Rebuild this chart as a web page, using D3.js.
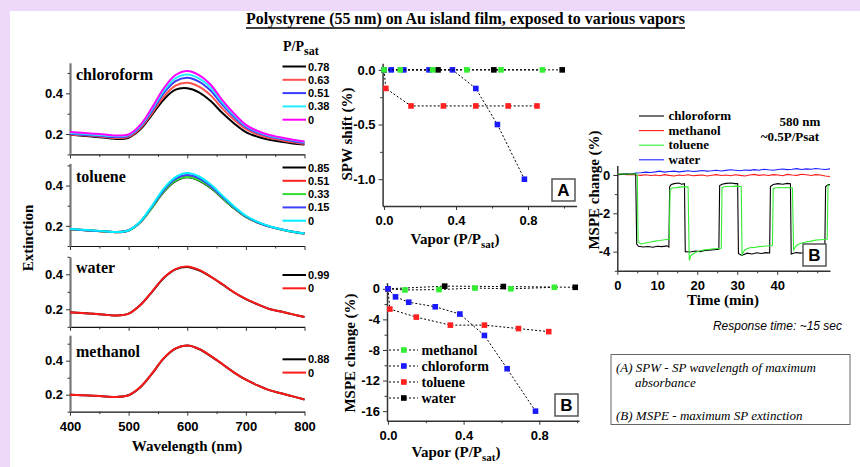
<!DOCTYPE html>
<html>
<head>
<meta charset="utf-8">
<script src="https://cdn.jsdelivr.net/npm/d3@7"></script>
<style>
  body { margin: 0; background: #fff; }
  .serif { font-family: "Liberation Serif", "Times New Roman", serif; font-weight: bold; }
  .sans { font-family: "Liberation Sans", Arial, sans-serif; font-weight: bold; }
  .axis text { font-family: "Liberation Sans", Arial, sans-serif; font-weight: bold; font-size: 13px; fill: #000; }
</style>
</head>
<body>
<div id="chart"></div>
<script>
// ---- data: extinction spectra ----
const wavelengths = [400,420,440,460,480,500,520,540,560,580,600,620,640,660,680,700,720,740,760,780,800];

const chloroformLevels = ["0.78","0.63","0.51","0.38","0"];
const chloroform078 = [.196,.192,.187,.182,.176,.182,.223,.295,.370,.418,.425,.405,.362,.303,.252,.210,.187,.172,.162,.154,.148];
const chloroform063 = [.198,.194,.190,.185,.180,.186,.228,.303,.384,.438,.452,.433,.390,.325,.270,.224,.198,.181,.170,.160,.152];
const chloroform051 = [.201,.197,.193,.189,.185,.191,.235,.314,.401,.460,.477,.458,.413,.343,.284,.234,.206,.188,.176,.165,.157];
const chloroform038 = [.205,.201,.197,.193,.189,.195,.240,.322,.412,.474,.493,.474,.428,.354,.292,.240,.211,.192,.180,.169,.160];
const chloroform000 = [.210,.206,.202,.198,.193,.198,.245,.330,.425,.490,.510,.490,.442,.365,.300,.245,.215,.195,.183,.172,.163];

const tolueneLevels = ["0.85","0.51","0.33","0.15","0"];
const toluene085 = [.183,.179,.176,.172,.168,.177,.218,.291,.369,.422,.441,.425,.388,.337,.287,.244,.216,.196,.182,.170,.162];
const toluene051 = [.184,.181,.176,.172,.169,.178,.219,.293,.374,.428,.447,.431,.393,.341,.290,.246,.217,.196,.182,.171,.163];
const toluene033 = [.183,.180,.176,.172,.169,.177,.218,.291,.371,.424,.443,.427,.390,.338,.288,.245,.217,.196,.182,.171,.163];
const toluene015 = [.184,.180,.176,.173,.169,.178,.220,.296,.378,.433,.452,.436,.397,.344,.292,.247,.218,.197,.183,.171,.163];
const toluene000 = [.185,.181,.177,.173,.169,.178,.222,.300,.385,.442,.462,.445,.405,.350,.296,.250,.220,.198,.183,.171,.163];

const waterLevels = ["0.99","0"];
const water099 = [.183,.179,.174,.169,.164,.175,.224,.300,.379,.428,.442,.423,.386,.342,.296,.258,.228,.202,.187,.171,.156];
const water000 = [.183,.179,.174,.169,.164,.175,.225,.301,.381,.430,.444,.425,.387,.343,.297,.259,.229,.202,.187,.171,.156];

const methanolLevels = ["0.88","0"];
const methanol088 = [.200,.197,.194,.190,.187,.197,.244,.324,.414,.471,.489,.469,.427,.379,.330,.288,.255,.227,.208,.190,.172];
const methanol000 = [.200,.197,.194,.190,.187,.197,.245,.325,.415,.472,.490,.470,.428,.380,.330,.288,.255,.227,.208,.190,.172];

// ---- data: (A) SPW shift and (B) MSPE change vs vapor pressure ----
const spwChloroform = [[0,0],[0.04,0],[0.11,0],[0.25,0],[0.38,0],[0.51,-0.17],[0.63,-0.5],[0.78,-1.0]];
const spwToluene    = [[0,0],[0.01,-0.17],[0.15,-0.33],[0.33,-0.33],[0.51,-0.33],[0.69,-0.33],[0.85,-0.33]];
const spwMethanol   = [[0,0],[0.09,0],[0.27,0],[0.46,0],[0.65,0],[0.88,0]];
const spwWater      = [[0,0],[0.30,0],[0.61,0],[0.99,0]];

const mspeMethanol   = [[0,0],[0.09,-0.15],[0.27,-0.1],[0.46,0.1],[0.65,0.0],[0.88,0.2]];
const mspeChloroform = [[0,0],[0.04,-1.05],[0.11,-1.75],[0.25,-2.35],[0.38,-3.3],[0.51,-6.1],[0.63,-10.45],[0.78,-16.0]];
const mspeToluene    = [[0,0],[0.01,-2.65],[0.15,-3.7],[0.33,-4.75],[0.51,-4.75],[0.69,-5.2],[0.85,-5.6]];
const mspeWater      = [[0,0],[0.30,0.35],[0.61,0.3],[0.99,0.2]];
const mspeNames = ["methanol","chloroform","toluene","water"];

// ---- data: MSPE change vs time at 580 nm ----
const timeChloroform = [[0,0.02],[1.2,0.03],[2.4,0.04],[3.5,0.05],[4.6,0.05],[4.85,-3.6],[5.3,-3.72],[6.5,-3.76],[7.7,-3.73],[8.9,-3.77],[10,-3.72],[11.2,-3.74],[12.4,-3.7],[12.9,-3.76],[13.1,-0.6],[13.5,-0.5],[14.2,-0.45],[15.4,-0.42],[16.1,-0.48],[16.8,-0.45],[17.0,-4.0],[18.3,-4.02],[19.5,-3.97],[20.7,-4.0],[21.9,-3.94],[23,-3.92],[24.2,-3.9],[25.4,-3.88],[25.6,-0.55],[26.2,-0.48],[27.2,-0.44],[28.4,-0.42],[29.5,-0.45],[30.1,-0.45],[30.3,-4.1],[31.1,-4.2],[32.5,-4.08],[33.7,-4.12],[34.9,-4.06],[36,-4.1],[37.2,-4.05],[38.1,-4.07],[38.3,-0.6],[39,-0.5],[40.2,-0.45],[41.4,-0.48],[42.5,-0.44],[43.3,-0.46],[43.5,-4.12],[44.7,-4.05],[45.9,-4.08],[47,-4.0],[48.2,-4.03],[49.4,-3.97],[50.6,-3.95],[51.9,-3.9],[52.1,-0.6],[52.6,-0.52],[53.2,-0.5]];
const timeToluene = [[0,0.05],[2.4,0.05],[4.7,0.05],[5.0,0.0],[5.2,-3.5],[5.9,-3.6],[7.1,-3.55],[8.3,-3.5],[9.5,-3.45],[10.6,-3.42],[11.8,-3.38],[13.0,-3.35],[13.2,-0.78],[13.7,-0.68],[14.8,-0.66],[16,-0.62],[17.3,-0.62],[17.7,-0.62],[18.0,-4.45],[18.4,-4.2],[19.5,-4.05],[20.7,-3.95],[21.9,-3.9],[23,-3.88],[24.2,-3.85],[26.0,-3.82],[26.2,-0.65],[27.2,-0.6],[28.4,-0.6],[29.5,-0.58],[31.0,-0.6],[31.2,-4.15],[31.9,-3.9],[33.1,-3.8],[34.3,-3.78],[35.5,-3.74],[36.6,-3.72],[38.8,-3.68],[39.0,-0.7],[40.2,-0.65],[41.4,-0.67],[42.5,-0.65],[43.8,-0.68],[44.1,-3.9],[44.9,-3.65],[46.1,-3.55],[47.3,-3.5],[48.5,-3.45],[49.6,-3.4],[50.8,-3.38],[52.5,-3.35],[52.7,-0.55],[53.2,-0.55]];
const traceTimes = [0,1.2,2.4,3.5,4.7,5.9,7.1,8.3,9.5,10.6,11.8,13,14.2,15.4,16.5,17.7,18.9,20.1,21.3,22.5,23.6,24.8,26,27.2,28.4,29.5,30.7,31.9,33.1,34.3,35.5,36.6,37.8,39,40.2,41.4,42.5,43.7,44.9,46.1,47.3,48.5,49.6,50.8,52,53.2];
const timeMethanol = [0.05,0.04,0.02,0.03,0.0,-0.02,0.01,-0.03,0.0,-0.04,0.02,-0.02,-0.05,0.0,-0.03,0.01,-0.04,-0.02,0.0,-0.05,-0.01,0.02,-0.03,0.0,-0.04,0.01,-0.02,-0.05,0.0,0.03,-0.02,0.01,-0.03,0.02,0.0,-0.04,0.03,0.0,-0.02,0.04,0.01,-0.03,0.02,0.0,-0.05,-0.08];
const timeWater = [0.05,0.06,0.08,0.05,0.1,0.12,0.15,0.13,0.16,0.2,0.15,0.18,0.2,0.16,0.19,0.22,0.18,0.2,0.23,0.2,0.22,0.25,0.21,0.24,0.27,0.25,0.22,0.26,0.24,0.28,0.25,0.3,0.27,0.25,0.29,0.31,0.28,0.3,0.33,0.29,0.32,0.3,0.34,0.31,0.29,0.32];
const timeNames = ["chloroform","methanol","toluene","water"];

const wlTicks = [400,500,600,700,800];
const extTicks = [0.2,0.4];

// ---- page ----
const W = 860, H = 467;
const svg = d3.select("#chart").append("svg").attr("width", W).attr("height", H);
svg.append("rect").attr("width", W).attr("height", H).attr("fill", "#fff");
svg.append("rect").attr("width", W).attr("height", 11).attr("fill", "#efd9fb");
svg.append("rect").attr("width", 10).attr("height", H).attr("fill", "#efd9fb");

const title = svg.append("text").attr("class", "serif")
    .attr("x", 465.5).attr("y", 24).attr("text-anchor", "middle")
    .attr("font-size", 15.9)
    .text("Polystyrene (55 nm) on Au island film, exposed to various vapors");
const tb = title.node().getBBox();
svg.append("line").attr("x1", tb.x).attr("x2", tb.x + tb.width)
    .attr("y1", 28).attr("y2", 28).attr("stroke", "#000").attr("stroke-width", 1.3);

// hyphen minus like the original, not the unicode one
const fmt1 = d => d3.format(".1f")(d).replace("\u2212", "-");
const fmt0 = d => String(d);

// axis with major + minor ticks
function drawAxis(g, axisFn, scale, major, minor, fmt, labels, color, width) {
  const a = g.append("g").attr("class", "axis");
  a.call(axisFn(scale).tickValues(major).tickSize(4).tickSizeOuter(0)
      .tickFormat(labels ? fmt : ""));
  const m = a.append("g").attr("class", "minor")
      .call(axisFn(scale).tickValues(minor).tickSize(2.5).tickSizeOuter(0).tickFormat(""));
  m.select("path.domain").remove();
  a.select("path.domain").attr("stroke", color).attr("stroke-width", width);
  a.selectAll(".tick line").attr("stroke", "#333");
  return a;
}

// ---- spectra panels ----
const xWl = d3.scaleLinear().domain([400, 800]).range([70, 304.5]);
const spectraPanels = [
  {name: "chloroform", dom: [0.1, 0.55], range: [154.4, 62.8], levels: chloroformLevels,
   series: [chloroform078, chloroform063, chloroform051, chloroform038, chloroform000],
   colors: ["#000000", "#ff5050", "#3a3aff", "#22eeff", "#ff00ff"], legendY: 66.5, labelY: 80},
  {name: "toluene", dom: [0.1, 0.51], range: [246, 163.4], levels: tolueneLevels,
   series: [toluene085, toluene051, toluene033, toluene015, toluene000],
   colors: ["#000000", "#ff2020", "#33dd33", "#4040ff", "#00eeff"], legendY: 167.5, labelY: 181.5},
  {name: "water", dom: [0.1, 0.5], range: [326.8, 256.8], levels: waterLevels,
   series: [water099, water000], colors: ["#000000", "#ff1a1a"], legendY: 275, labelY: 273},
  {name: "methanol", dom: [0.1, 0.55], range: [411.7, 335.2], levels: methanolLevels,
   series: [methanol088, methanol000], colors: ["#000000", "#ff1a1a"], legendY: 359.3, labelY: 356.5}
];

spectraPanels.forEach((p, pi) => {
  const y = d3.scaleLinear().domain(p.dom).range(p.range);
  const g = svg.append("g");
  const last = pi === spectraPanels.length - 1;

  const xa = drawAxis(g, d3.axisBottom, xWl, wlTicks, [450,550,650,750], fmt0, last, "#111", 1.2);
  xa.attr("transform", `translate(0,${p.range[0]})`);
  xa.selectAll("text").attr("dy", "0.95em");
  const minorY = [0.1,0.3,0.5].filter(v => v <= p.dom[1]);
  drawAxis(g, d3.axisLeft, y, extTicks, minorY, fmt1, true, "#777", 2.2)
    .attr("transform", "translate(70,0)");

  const line = d3.line().x((d, i) => xWl(wavelengths[i])).y(d => y(d)).curve(d3.curveCatmullRom);
  p.series.forEach((s, si) => {
    g.append("path").datum(s).attr("d", line).attr("fill", "none")
      .attr("stroke", p.colors[si]).attr("stroke-width", 2);
  });

  g.append("text").attr("class", "serif").attr("x", 76).attr("y", p.labelY)
    .attr("font-size", 16).text(p.name);

  p.levels.forEach((lv, li) => {
    const ly = p.legendY + li * 13.3;
    g.append("line").attr("x1", 282.5).attr("x2", 306).attr("y1", ly).attr("y2", ly)
      .attr("stroke", p.colors[li]).attr("stroke-width", 2);
    g.append("text").attr("class", "sans").attr("x", 308).attr("y", ly + 4)
      .attr("font-size", 11).text(lv);
  });
});

const psat = svg.append("text").attr("class", "serif").attr("x", 283).attr("y", 51).attr("font-size", 14);
psat.append("tspan").text("P/P");
psat.append("tspan").attr("dy", 4).attr("font-size", 12).text("sat");

svg.append("text").attr("class", "serif").attr("font-size", 15)
  .attr("transform", "translate(33,238) rotate(-90)").attr("text-anchor", "middle").text("Extinction");
svg.append("text").attr("class", "serif").attr("font-size", 15)
  .attr("x", 187).attr("y", 451).attr("text-anchor", "middle").text("Wavelength (nm)");

// ---- scatter panels A and B ----
const markerColors = {methanol: "#33ee33", chloroform: "#1a1aff", toluene: "#ff2020", water: "#000000"};

function vaporLabel(x, y) {
  const t = svg.append("text").attr("class", "serif").attr("font-size", 15)
    .attr("x", x).attr("y", y).attr("text-anchor", "middle");
  t.append("tspan").text("Vapor (P/P");
  t.append("tspan").attr("dy", 4).attr("font-size", 11).text("sat");
  t.append("tspan").attr("dy", -4).text(")");
}

function boxLabel(x, y, letter) {
  svg.append("rect").attr("x", x).attr("y", y).attr("width", 23).attr("height", 22)
    .attr("fill", "#fff").attr("stroke", "#555").attr("stroke-width", 1.5);
  svg.append("text").attr("class", "sans").attr("font-size", 17)
    .attr("x", x + 11.5).attr("y", y + 17).attr("text-anchor", "middle").text(letter);
}

function scatterSeries(g, x, y, data, color) {
  g.append("path").datum(data)
    .attr("d", d3.line().x(d => x(d[0])).y(d => y(d[1])))
    .attr("fill", "none").attr("stroke", "#000").attr("stroke-width", 1)
    .attr("stroke-dasharray", "2,2");
  g.selectAll(null).data(data).join("rect")
    .attr("x", d => x(d[0]) - 2.8).attr("y", d => y(d[1]) - 2.8)
    .attr("width", 5.6).attr("height", 5.6).attr("fill", color);
}

// panel A
{
  const x = d3.scaleLinear().domain([-0.008, 1.07]).range([382.6, 576.6]);
  const y = d3.scaleLinear().domain([-1.245, 0.06]).range([206, 63.3]);
  const g = svg.append("g");
  drawAxis(g, d3.axisBottom, x, [0, 0.4, 0.8], [0.2, 0.6, 1.0], fmt1, true, "#333", 1.5)
    .attr("transform", "translate(0,206)").selectAll("text").attr("dy", "0.95em");
  drawAxis(g, d3.axisLeft, y, [0, -0.5, -1.0], [-0.25, -0.75], fmt1, true, "#333", 1.5)
    .attr("transform", "translate(382.6,0)");
  scatterSeries(g, x, y, spwWater, markerColors.water);
  scatterSeries(g, x, y, spwToluene, markerColors.toluene);
  scatterSeries(g, x, y, spwChloroform, markerColors.chloroform);
  scatterSeries(g, x, y, spwMethanol, markerColors.methanol);
  boxLabel(552, 179, "A");
  svg.append("text").attr("class", "serif").attr("font-size", 15)
    .attr("transform", "translate(352,134) rotate(-90)").attr("text-anchor", "middle").text("SPW shift (%)");
  vaporLabel(455, 244);
}

// panel B
{
  const x = d3.scaleLinear().domain([-0.005, 1.01]).range([387, 579]);
  const y = d3.scaleLinear().domain([-17.25, 0.8]).range([420.7, 282.7]);
  const g = svg.append("g");
  drawAxis(g, d3.axisBottom, x, [0, 0.4, 0.8], [0.2, 0.6, 1.0], fmt1, true, "#333", 1.5)
    .attr("transform", "translate(0,420.7)").selectAll("text").attr("dy", "0.95em");
  drawAxis(g, d3.axisLeft, y, [0, -4, -8, -12, -16], [-2, -6, -10, -14], fmt0, true, "#333", 1.5)
    .attr("transform", "translate(387,0)");
  scatterSeries(g, x, y, mspeWater, markerColors.water);
  scatterSeries(g, x, y, mspeMethanol, markerColors.methanol);
  scatterSeries(g, x, y, mspeToluene, markerColors.toluene);
  scatterSeries(g, x, y, mspeChloroform, markerColors.chloroform);

  mspeNames.forEach((n, i) => {
    const ly = 350 + i * 16;
    g.append("line").attr("x1", 389).attr("x2", 418).attr("y1", ly).attr("y2", ly)
      .attr("stroke", "#000").attr("stroke-dasharray", "2,2");
    g.append("rect").attr("x", 401).attr("y", ly - 2.8).attr("width", 5.6).attr("height", 5.6)
      .attr("fill", markerColors[n]);
    g.append("text").attr("class", "serif").attr("font-size", 14)
      .attr("x", 421.5).attr("y", ly + 4.5).text(n);
  });
  boxLabel(555, 394, "B");
  svg.append("text").attr("class", "serif").attr("font-size", 15)
    .attr("transform", "translate(355,353) rotate(-90)").attr("text-anchor", "middle").text("MSPE change (%)");
  vaporLabel(456, 457);
}

// ---- time trace panel ----
{
  const x = d3.scaleLinear().domain([0, 53.2]).range([617.3, 830]);
  const y = d3.scaleLinear().domain([-5, 0.5]).range([270.8, 165.4]);
  const g = svg.append("g");
  drawAxis(g, d3.axisBottom, x, [0, 10, 20, 30, 40], [5, 15, 25, 35, 45, 50], fmt0, true, "#333", 1.5)
    .attr("transform", "translate(0,270.8)").selectAll("text").attr("dy", "0.95em");
  drawAxis(g, d3.axisLeft, y, [0, -2, -4], [-1, -3, -5], fmt0, true, "#333", 1.5)
    .attr("transform", "translate(617.3,0)");
  const traceColors = {chloroform: "#000000", methanol: "#ff1a1a", toluene: "#33ee33", water: "#2020ff"};
  const line = d3.line().x(d => x(d[0])).y(d => y(d[1]));
  const waterPts = traceTimes.map((t, i) => [t, timeWater[i]]);
  const methanolPts = traceTimes.map((t, i) => [t, timeMethanol[i]]);
  [[waterPts, "water"], [methanolPts, "methanol"], [timeChloroform, "chloroform"], [timeToluene, "toluene"]]
    .forEach(([s, n]) => {
      g.append("path").datum(s).attr("d", line).attr("fill", "none")
        .attr("stroke", traceColors[n]).attr("stroke-width", 1.1);
    });
  timeNames.forEach((n, i) => {
    const ly = 116 + i * 14.6;
    g.append("line").attr("x1", 639).attr("x2", 664).attr("y1", ly).attr("y2", ly)
      .attr("stroke", traceColors[n]).attr("stroke-width", 1.1);
    g.append("text").attr("class", "serif").attr("font-size", 13)
      .attr("x", 668.5).attr("y", ly + 4).text(n);
  });
  svg.append("text").attr("class", "serif").attr("font-size", 13)
    .attr("x", 800).attr("y", 126).attr("text-anchor", "middle").text("580 nm");
  svg.append("text").attr("class", "serif").attr("font-size", 13)
    .attr("x", 790).attr("y", 141).attr("text-anchor", "middle").text("~0.5P/Psat");
  boxLabel(803, 244, "B");
  svg.append("text").attr("class", "serif").attr("font-size", 15)
    .attr("transform", "translate(599,190) rotate(-90)").attr("text-anchor", "middle").text("MSPE change (%)");
  svg.append("text").attr("class", "serif").attr("font-size", 15)
    .attr("x", 723).attr("y", 305).attr("text-anchor", "middle").text("Time (min)");
}

// ---- notes ----
svg.append("text").attr("x", 842).attr("y", 330).attr("text-anchor", "end")
  .attr("font-family", "Liberation Sans, Arial, sans-serif").attr("font-style", "italic")
  .attr("font-size", 12).text("Response time: ~15 sec");
svg.append("rect").attr("x", 611).attr("y", 354.5).attr("width", 239).attr("height", 70)
  .attr("fill", "#fff").attr("stroke", "#666").attr("stroke-width", 1);
const note = svg.append("g").attr("font-family", "Liberation Serif, Times New Roman, serif")
  .attr("font-style", "italic").attr("font-size", 13);
note.append("text").attr("x", 616).attr("y", 372).text("(A) SPW  -  SP wavelength of maximum");
note.append("text").attr("x", 635).attr("y", 387).text("absorbance");
note.append("text").attr("x", 616).attr("y", 420).text("(B) MSPE - maximum SP extinction");
</script>
</body>
</html>
